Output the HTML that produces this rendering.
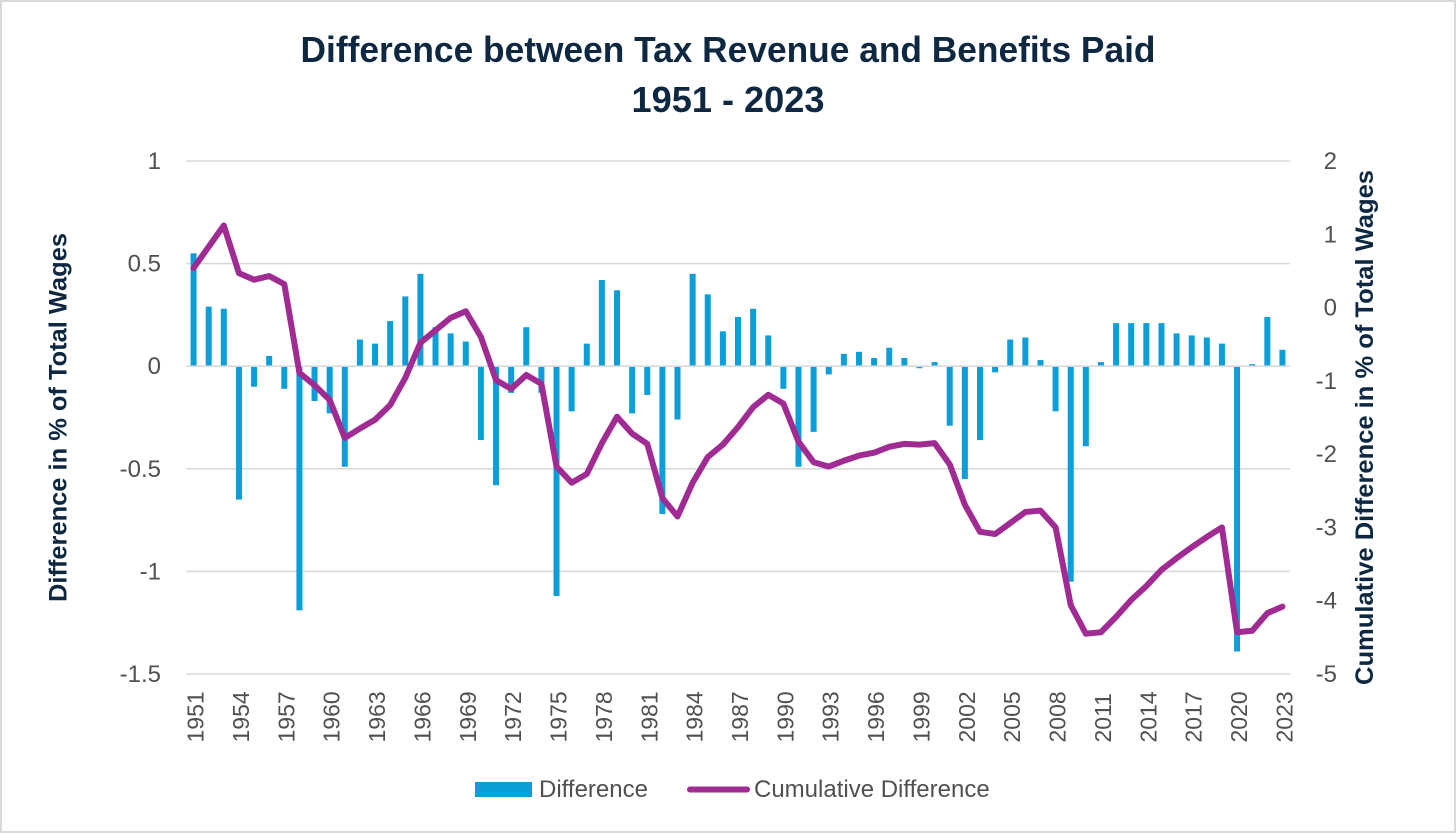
<!DOCTYPE html>
<html lang="en">
<head>
<meta charset="utf-8">
<title>Difference between Tax Revenue and Benefits Paid</title>
<style>
html,body{margin:0;padding:0;background:#fff;}
body{width:1456px;height:833px;overflow:hidden;}
svg{display:block;}
text{font-family:"Liberation Sans",sans-serif;}
</style>
</head>
<body>
<svg id="chart" xmlns="http://www.w3.org/2000/svg" width="1456" height="833" viewBox="0 0 1456 833">
  <rect x="1" y="1" width="1454" height="831" fill="#fff" stroke="#d9d9d9" stroke-width="2"/>
  <text x="728" y="62" text-anchor="middle" font-size="36" font-weight="700" fill="#0e2841" textLength="855" lengthAdjust="spacingAndGlyphs">Difference between Tax Revenue and Benefits Paid</text>
  <text x="728" y="112" text-anchor="middle" font-size="36" font-weight="700" fill="#0e2841" textLength="193" lengthAdjust="spacingAndGlyphs">1951 - 2023</text>
  <g id="grid"></g>
  <g id="bars"></g>
  <g id="zero"></g>
  <g id="line"></g>
  <g id="left-ticks"></g>
  <g id="right-ticks"></g>
  <g id="x-ticks"></g>
  <text transform="translate(66.5,417.5) rotate(-90)" text-anchor="middle" font-size="25" font-weight="700" fill="#0e2841" textLength="369" lengthAdjust="spacingAndGlyphs">Difference in % of Total Wages</text>
  <text transform="translate(1373,427.5) rotate(-90)" text-anchor="middle" font-size="25" font-weight="700" fill="#0e2841" textLength="515" lengthAdjust="spacingAndGlyphs">Cumulative Difference in % of Total Wages</text>
  <g>
    <rect x="475" y="782" width="57" height="15" fill="#0b9ed8"/>
    <text x="539" y="797" font-size="24" fill="#505050">Difference</text>
    <line x1="690" y1="789.5" x2="747" y2="789.5" stroke="#a02b93" stroke-width="6" stroke-linecap="round"/>
    <text x="754" y="797" font-size="24" fill="#505050">Cumulative Difference</text>
  </g>
</svg>
<script>
const years = [1951,1952,1953,1954,1955,1956,1957,1958,1959,1960,1961,1962,1963,1964,1965,1966,1967,1968,1969,1970,1971,1972,1973,1974,1975,1976,1977,1978,1979,1980,1981,1982,1983,1984,1985,1986,1987,1988,1989,1990,1991,1992,1993,1994,1995,1996,1997,1998,1999,2000,2001,2002,2003,2004,2005,2006,2007,2008,2009,2010,2011,2012,2013,2014,2015,2016,2017,2018,2019,2020,2021,2022,2023];
const difference = [0.55,0.29,0.28,-0.65,-0.10,0.05,-0.11,-1.19,-0.17,-0.23,-0.49,0.13,0.11,0.22,0.34,0.45,0.19,0.16,0.12,-0.36,-0.58,-0.13,0.19,-0.13,-1.12,-0.22,0.11,0.42,0.37,-0.23,-0.14,-0.72,-0.26,0.45,0.35,0.17,0.24,0.28,0.15,-0.11,-0.49,-0.32,-0.04,0.06,0.07,0.04,0.09,0.04,-0.01,0.02,-0.29,-0.55,-0.36,-0.03,0.13,0.14,0.03,-0.22,-1.05,-0.39,0.02,0.21,0.21,0.21,0.21,0.16,0.15,0.14,0.11,-1.39,0.01,0.24,0.08];
const cumulative = [0.54,0.83,1.12,0.47,0.38,0.43,0.32,-0.89,-1.06,-1.26,-1.78,-1.65,-1.53,-1.33,-0.96,-0.48,-0.31,-0.14,-0.05,-0.40,-0.99,-1.11,-0.92,-1.04,-2.17,-2.39,-2.27,-1.85,-1.49,-1.72,-1.86,-2.60,-2.85,-2.39,-2.04,-1.87,-1.63,-1.36,-1.19,-1.31,-1.83,-2.11,-2.17,-2.09,-2.02,-1.98,-1.90,-1.86,-1.87,-1.85,-2.14,-2.69,-3.06,-3.09,-2.94,-2.79,-2.77,-3.00,-4.06,-4.45,-4.43,-4.22,-3.99,-3.80,-3.58,-3.42,-3.27,-3.13,-3.00,-4.43,-4.41,-4.17,-4.08];
const leftTicks = [1,0.5,0,-0.5,-1,-1.5];
const rightTicks = [2,1,0,-1,-2,-3,-4,-5];
const xTickEvery = 3;

const NS = 'http://www.w3.org/2000/svg';
const plotLeft = 186, plotRight = 1290, plotTop = 161, plotBottom = 674;
const leftMax = leftTicks[0], leftMin = leftTicks[leftTicks.length - 1];
const rightMax = rightTicks[0], rightMin = rightTicks[rightTicks.length - 1];

function xScale(i) {
  return plotLeft + (i + 0.5) * (plotRight - plotLeft) / years.length;
}
function yLeft(v) {
  return plotTop + (leftMax - v) / (leftMax - leftMin) * (plotBottom - plotTop);
}
function yRight(v) {
  return plotTop + (rightMax - v) / (rightMax - rightMin) * (plotBottom - plotTop);
}
function make(tag, parent, props, content) {
  const el = document.createElementNS(NS, tag);
  for (const k in props) el.setAttribute(k, props[k]);
  if (content !== undefined) el.textContent = content;
  parent.appendChild(el);
  return el;
}

const gridG = document.getElementById('grid');
const zeroG = document.getElementById('zero');
leftTicks.forEach(function (t) {
  const target = t === 0 ? zeroG : gridG;
  const gl = make('line', target, {x1: plotLeft, x2: plotRight, y1: yLeft(t), y2: yLeft(t), stroke: '#d9d9d9', 'stroke-width': 1.6});
  
  
});

const barsG = document.getElementById('bars');
difference.forEach(function (v, i) {
  const y0 = yLeft(0), y1 = yLeft(v);
  const b = make('rect', barsG, {x: xScale(i) - 3, width: 6, y: Math.min(y0, y1), height: Math.abs(y1 - y0), fill: '#0b9ed8'});
  
  
});

const lineG = document.getElementById('line');
const pts = cumulative.map(function (v, i) { return xScale(i).toFixed(2) + ',' + yRight(v).toFixed(2); }).join(' ');
const pl = make('polyline', lineG, {points: pts, fill: 'none', stroke: '#a02b93', 'stroke-width': 6, 'stroke-linejoin': 'round', 'stroke-linecap': 'round'});



const leftG = document.getElementById('left-ticks');
leftTicks.forEach(function (t) {
  const el = make('text', leftG, {x: 161, y: yLeft(t) + 8, 'text-anchor': 'end', 'font-size': 24, fill: '#505050'}, String(t));
  
  
});

const rightG = document.getElementById('right-ticks');
rightTicks.forEach(function (t) {
  const el = make('text', rightG, {x: 1337, y: yRight(t) + 8, 'text-anchor': 'end', 'font-size': 24, fill: '#505050'}, String(t));
  
  
});

const xG = document.getElementById('x-ticks');
years.forEach(function (yr, i) {
  if (i % xTickEvery !== 0) return;
  const el = make('text', xG, {transform: 'translate(' + (xScale(i) + 10).toFixed(2) + ',742.5) rotate(-90)', 'font-size': 23, fill: '#505050'}, String(yr));
  
  
});
</script>
</body>
</html>
